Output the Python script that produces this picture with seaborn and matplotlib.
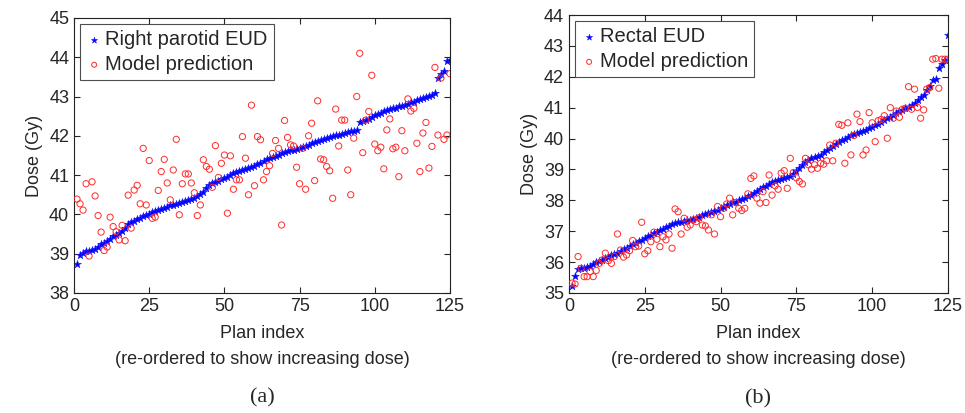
import numpy as np
import pandas as pd
import seaborn as sns
import matplotlib
matplotlib.use('Agg')
import matplotlib.pyplot as plt

# (a) right parotid - EUD, plans sorted by dose
parotid_eud = [38.75, 38.97, 39.02, 39.06, 39.08, 39.10, 39.12, 39.18, 39.24, 39.28,
               39.33, 39.38, 39.45, 39.48, 39.52, 39.58, 39.66, 39.76, 39.80, 39.84,
               39.88, 39.92, 39.96, 39.99, 40.02, 40.05, 40.08, 40.11, 40.14, 40.17,
               40.20, 40.23, 40.25, 40.27, 40.29, 40.31, 40.33, 40.36, 40.38, 40.42,
               40.47, 40.52, 40.58, 40.66, 40.76, 40.80, 40.83, 40.86, 40.89, 40.92,
               40.95, 41.00, 41.05, 41.08, 41.11, 41.13, 41.15, 41.17, 41.20, 41.24,
               41.28, 41.32, 41.36, 41.40, 41.43, 41.46, 41.49, 41.52, 41.55, 41.58,
               41.61, 41.63, 41.65, 41.67, 41.69, 41.71, 41.74, 41.77, 41.81, 41.84,
               41.87, 41.90, 41.93, 41.95, 41.97, 41.99, 42.01, 42.03, 42.05, 42.07,
               42.09, 42.11, 42.13, 42.16, 42.35, 42.38, 42.41, 42.44, 42.48, 42.52,
               42.56, 42.59, 42.62, 42.65, 42.68, 42.70, 42.72, 42.75, 42.77, 42.79,
               42.82, 42.85, 42.87, 42.90, 42.93, 42.96, 42.99, 43.01, 43.04, 43.10,
               43.48, 43.58, 43.65, 43.90, 43.92]
parotid_pred = [40.39, 40.27, 40.11, 40.78, 38.94, 40.83, 40.47, 39.97, 39.55, 39.08,
                39.17, 39.93, 39.69, 39.56, 39.35, 39.72, 39.33, 40.49, 39.65, 40.62,
                40.74, 40.27, 41.68, 40.24, 41.37, 39.90, 39.93, 40.61, 41.09, 41.40,
                40.80, 40.37, 41.13, 41.91, 39.99, 40.78, 41.03, 41.03, 40.80, 40.55,
                39.97, 40.24, 41.39, 41.22, 41.15, 40.69, 41.75, 40.94, 41.30, 41.51,
                40.03, 41.49, 40.64, 40.88, 40.88, 41.98, 41.43, 40.50, 42.78, 40.73,
                41.98, 41.90, 40.88, 41.09, 41.24, 41.55, 41.88, 41.68, 39.73, 42.39,
                41.96, 41.77, 41.74, 41.20, 40.78, 41.68, 40.64, 42.00, 42.32, 40.86,
                42.89, 41.41, 41.39, 41.22, 41.11, 40.41, 42.68, 41.74, 42.40, 42.40,
                41.13, 40.50, 41.94, 43.00, 44.10, 41.57, 42.40, 42.62, 43.54, 41.79,
                41.62, 41.71, 41.16, 42.15, 42.43, 41.67, 41.71, 40.96, 42.13, 41.62,
                42.94, 42.63, 42.70, 41.81, 41.09, 42.07, 42.34, 41.18, 41.73, 43.74,
                42.02, 43.47, 41.91, 42.02, 43.58]

# (b) rectum
rectal_eud = [35.21, 35.55, 35.78, 35.80, 35.82, 35.84, 35.88, 35.95, 36.00, 36.05,
              36.08, 36.12, 36.17, 36.22, 36.27, 36.31, 36.36, 36.42, 36.47, 36.52,
              36.57, 36.62, 36.68, 36.73, 36.78, 36.83, 36.88, 36.93, 36.98, 37.03,
              37.08, 37.13, 37.18, 37.22, 37.26, 37.29, 37.31, 37.33, 37.35, 37.37,
              37.40, 37.43, 37.47, 37.51, 37.55, 37.58, 37.62, 37.66, 37.70, 37.74,
              37.79, 37.84, 37.89, 37.93, 37.96, 38.00, 38.04, 38.09, 38.13, 38.18,
              38.24, 38.30, 38.36, 38.42, 38.48, 38.54, 38.59, 38.63, 38.67, 38.70,
              38.73, 38.76, 38.78, 38.84, 38.95, 39.05, 39.15, 39.24, 39.30, 39.36,
              39.40, 39.44, 39.48, 39.55, 39.62, 39.69, 39.75, 39.82, 39.89, 39.95,
              40.00, 40.06, 40.10, 40.14, 40.18, 40.21, 40.24, 40.28, 40.33, 40.38,
              40.43, 40.48, 40.53, 40.59, 40.65, 40.71, 40.77, 40.83, 40.88, 40.93,
              40.98, 41.03, 41.08, 41.15, 41.25, 41.35, 41.42, 41.58, 41.70, 41.90,
              41.92, 42.28, 42.40, 42.55, 43.35]
rectal_pred = [35.32, 35.29, 36.18, 35.80, 35.53, 35.53, 35.69, 35.53, 35.73, 35.96,
               36.07, 36.29, 36.05, 35.96, 36.18, 36.91, 36.39, 36.16, 36.23, 36.37,
               36.70, 36.50, 36.52, 37.29, 36.27, 36.37, 36.66, 36.97, 36.74, 36.50,
               36.82, 36.72, 36.91, 36.45, 37.72, 37.63, 36.91, 37.42, 37.13, 37.20,
               37.37, 37.31, 37.44, 37.20, 37.17, 37.04, 37.53, 36.91, 37.80, 37.47,
               37.74, 37.88, 38.07, 37.53, 37.93, 37.74, 37.67, 37.74, 38.21, 38.71,
               38.79, 38.07, 37.91, 38.28, 37.93, 38.82, 38.17, 38.47, 38.36, 38.88,
               38.96, 38.39, 39.36, 38.90, 38.73, 38.61, 38.53, 39.36, 39.15, 39.01,
               39.15, 39.04, 39.20, 39.17, 39.28, 39.79, 39.28, 39.85, 40.46, 40.43,
               39.20, 40.51, 39.47, 40.10, 40.79, 40.55, 39.47, 39.63, 40.84, 40.51,
               39.90, 40.58, 40.62, 40.74, 40.01, 41.00, 40.66, 40.89, 40.69, 40.95,
               40.98, 41.68, 40.95, 41.60, 41.01, 40.66, 40.93, 41.60, 41.65, 42.57,
               42.59, 41.63, 42.57, 42.57, 42.57]

plan = np.arange(1, 126)

sns.set_style('ticks')
plt.rcParams['font.family'] = ['Liberation Sans', 'DejaVu Sans']

fig = plt.figure(figsize=(9.65, 4.13), dpi=100)
ax1 = fig.add_axes([0.0767, 0.2906, 0.3896, 0.666])
ax2 = fig.add_axes([0.5896, 0.2906, 0.3927, 0.673])

panels = [(ax1, parotid_eud, parotid_pred, 'Right parotid EUD', (38, 45), '(a)'),
          (ax2, rectal_eud, rectal_pred, 'Rectal EUD', (35, 44), '(b)')]

for ax, eud, pred, lab, ylim, tag in panels:
    df = pd.DataFrame({'plan': plan, 'eud': eud, 'pred': pred})
    sns.scatterplot(data=df, x='plan', y='eud', ax=ax, marker='*', s=34,
                    color='#0000ff', edgecolor='#1a1aff', linewidth=0.4, label=lab, zorder=2)
    sns.scatterplot(data=df, x='plan', y='pred', ax=ax, marker='o', s=20,
                    facecolor='none', edgecolor='#ff2a2a', linewidth=0.7,
                    label='Model prediction', zorder=3)
    ax.set_xlim(0, 125)
    ax.set_ylim(*ylim)
    ax.set_xticks([0, 25, 50, 75, 100, 125])
    ax.set_yticks(range(ylim[0], ylim[1] + 1))
    ax.tick_params(direction='in', top=True, right=True, labelsize=13, length=4, width=0.8)
    for sp in ax.spines.values():
        sp.set_linewidth(0.8)
        sp.set_color('#222222')
    ax.set_xlabel('Plan index\n(re-ordered to show increasing dose)', fontsize=13,
                  linespacing=1.75, labelpad=7)
    ax.set_ylabel('Dose (Gy)', fontsize=13)
    leg = ax.legend(loc='upper left', fontsize=14.5, frameon=True, fancybox=False,
                    handletextpad=0.15, handlelength=0.8, borderpad=0.3,
                    labelspacing=0.3, borderaxespad=0.3, markerscale=0.8)
    leg.get_frame().set_edgecolor('#222222')
    leg.get_frame().set_linewidth(0.8)
    ax.text(0.5, -0.345, tag, transform=ax.transAxes, ha='center', va='top',
            fontsize=16, family=['Liberation Serif', 'DejaVu Serif'])

fig.savefig('out.png', dpi=100)
